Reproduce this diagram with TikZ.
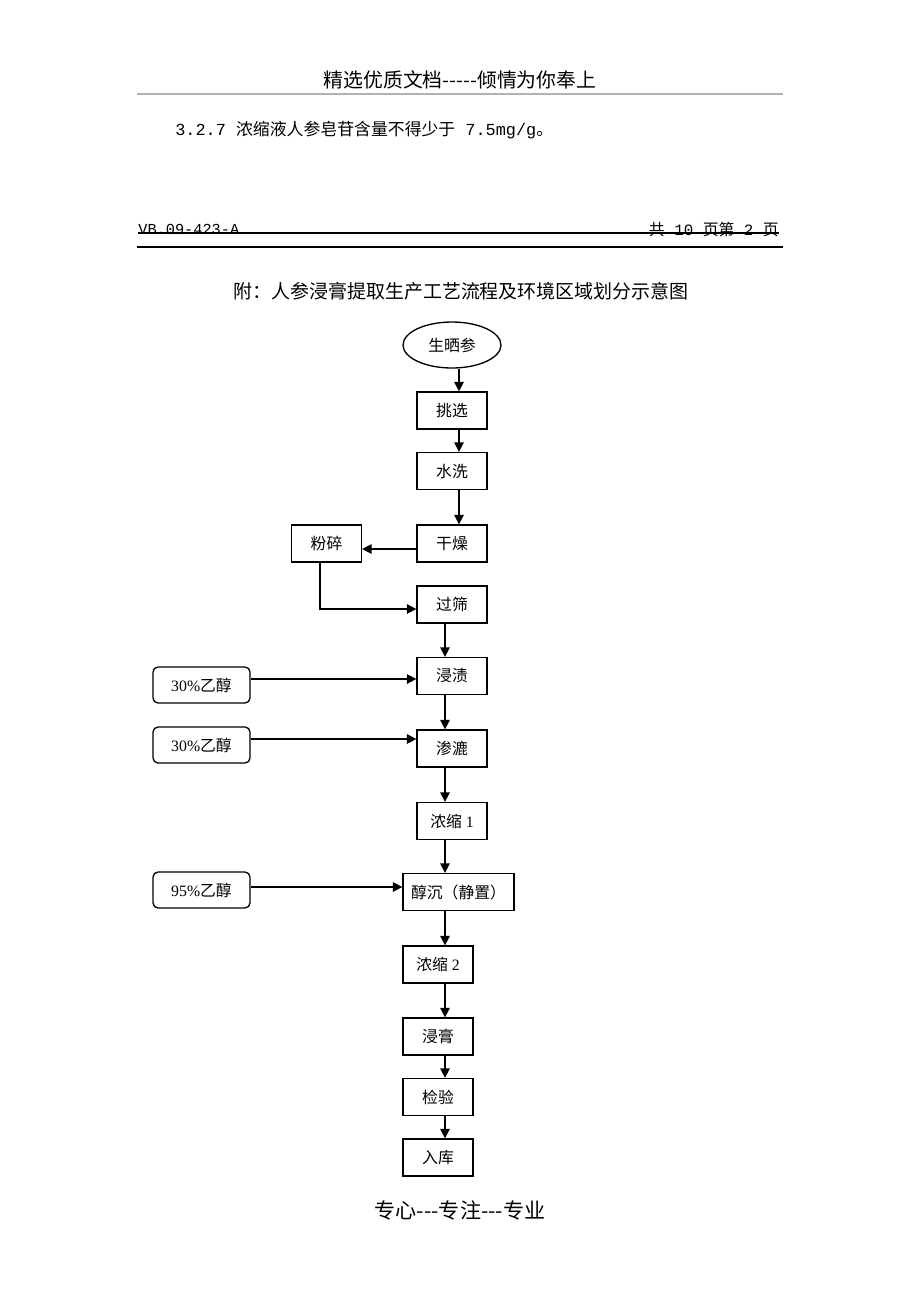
\documentclass[tikz,border=0pt]{standalone}
\usepackage{fontspec}
\setmainfont{Liberation Serif}
\newfontfamily\cjk{Noto Sans CJK SC}
\newfontfamily\halfwd{Liberation Mono}
\usepackage{tikz}
\usetikzlibrary{positioning, arrows.meta, shapes.geometric}

\begin{document}
\begin{tikzpicture}[
    x=0.02cm, y=-0.02cm,
    box/.style={
        draw,
        line width=0.75pt,
        align=center,
        inner sep=1pt,
        font=\fontsize{9}{11}\selectfont,
        minimum width=1.4cm,
        minimum height=0.74cm
    },
    widebox/.style={box, minimum width=2.22cm},
    feedbox/.style={box, rounded corners=0.1cm, minimum width=1.94cm, minimum height=0.72cm},
    rawoval/.style={box, ellipse, minimum width=1.96cm, minimum height=0.92cm},
    arrow/.style={-{Triangle[length=1.9mm,width=1.9mm]}, line width=0.85pt},
    pagetext/.style={inner sep=0pt}
]

% page frame
\path[use as bounding box, fill=white] (0,0) rectangle (920,1302);

% header and page text
\node[pagetext, font=\fontsize{11.3}{13}\selectfont] (head) at (460,80) {\cjk 精选优质文档-----倾情为你奉上};
\draw[gray!60, line width=0.7pt] (137,94) -- (783,94);
\node[pagetext, anchor=west, font=\fontsize{9.6}{12}\selectfont] (clause) at (175,130) {\halfwd 3.2.7 {\cjk 浓缩液人参皂苷含量不得少于} 7.5mg/g{\cjk 。}};
\node[pagetext, anchor=west, font=\fontsize{8.7}{11}\selectfont] (docno) at (138,229) {\halfwd VB.09-423-A};
\node[pagetext, anchor=east, font=\fontsize{9}{11}\selectfont] (pageno) at (779,229) {{\cjk 共}\halfwd{} 10 {\cjk 页第} 2 {\cjk 页}};
\draw[line width=0.6pt] (docno.west |- 0,233) -- (pageno.east |- 0,233);
\draw[line width=1pt] (137,247) -- (783,247);
\node[pagetext, font=\fontsize{10.8}{13}\selectfont] (title) at (461,291) {\cjk 附：人参浸膏提取生产工艺流程及环境区域划分示意图};
\node[pagetext, font=\fontsize{12}{14}\selectfont] (foot) at (460,1210) {\cjk 专心---专注---专业};

% process chain
\node[rawoval] (shengshai) at (452,345) {\cjk 生晒参};
\node[box] (tiaoxuan) at (452,410.5) {\cjk 挑选};
\node[box] (shuixi) at (452,471) {\cjk 水洗};
\node[box] (ganzao) at (452,543.5) {\cjk 干燥};
\node[box] (fensui) at (326.5,543.5) {\cjk 粉碎};
\node[box] (guoshai) at (452,604.5) {\cjk 过筛};
\node[box] (jinzi) at (452,676) {\cjk 浸渍};
\node[box] (shenlu) at (452,748.5) {\cjk 渗漉};
\node[box] (nongsuoA) at (452,821) {{\cjk 浓缩} 1};
\node[widebox] (chunchen) at (458.5,892) {\cjk 醇沉（静置）};
\node[box] (nongsuoB) at (438,964.5) {{\cjk 浓缩} 2};
\node[box] (jingao) at (438,1036.5) {\cjk 浸膏};
\node[box] (jianyan) at (438,1097) {\cjk 检验};
\node[box] (ruku) at (438,1157.5) {\cjk 入库};

% solvent feeds
\node[feedbox] (ethanolA) at (201.5,685) {30\%{\cjk 乙醇}};
\node[feedbox] (ethanolB) at (201.5,745) {30\%{\cjk 乙醇}};
\node[feedbox] (ethanolC) at (201.5,890) {95\%{\cjk 乙醇}};

\coordinate (axistop) at (459,0);
\coordinate (axis) at (445,0);

\draw[arrow] (shengshai.south -| axistop) -- (tiaoxuan.north -| axistop);
\draw[arrow] (tiaoxuan.south -| axistop) -- (shuixi.north -| axistop);
\draw[arrow] (shuixi.south -| axistop) -- (ganzao.north -| axistop);
\draw[arrow] ([yshift=-0.11cm]ganzao.west) -- ([yshift=-0.11cm]fensui.east);
\draw[arrow] ([xshift=-0.13cm]fensui.south) |- ([yshift=-0.09cm]guoshai.west);
\draw[arrow] (guoshai.south -| axis) -- (jinzi.north -| axis);
\draw[arrow] (jinzi.south -| axis) -- (shenlu.north -| axis);
\draw[arrow] (shenlu.south -| axis) -- (nongsuoA.north -| axis);
\draw[arrow] (nongsuoA.south -| axis) -- (chunchen.north -| axis);
\draw[arrow] (chunchen.south -| axis) -- (nongsuoB.north -| axis);
\draw[arrow] (nongsuoB.south -| axis) -- (jingao.north -| axis);
\draw[arrow] (jingao.south -| axis) -- (jianyan.north -| axis);
\draw[arrow] (jianyan.south -| axis) -- (ruku.north -| axis);

\draw[arrow] ([yshift=0.12cm]ethanolA.east) -- ([yshift=0.12cm]ethanolA.east -| jinzi.west);
\draw[arrow] ([yshift=0.12cm]ethanolB.east) -- ([yshift=0.12cm]ethanolB.east -| shenlu.west);
\draw[arrow] ([yshift=0.06cm]ethanolC.east) -- ([yshift=0.06cm]ethanolC.east -| chunchen.west);

\end{tikzpicture}
\end{document}
